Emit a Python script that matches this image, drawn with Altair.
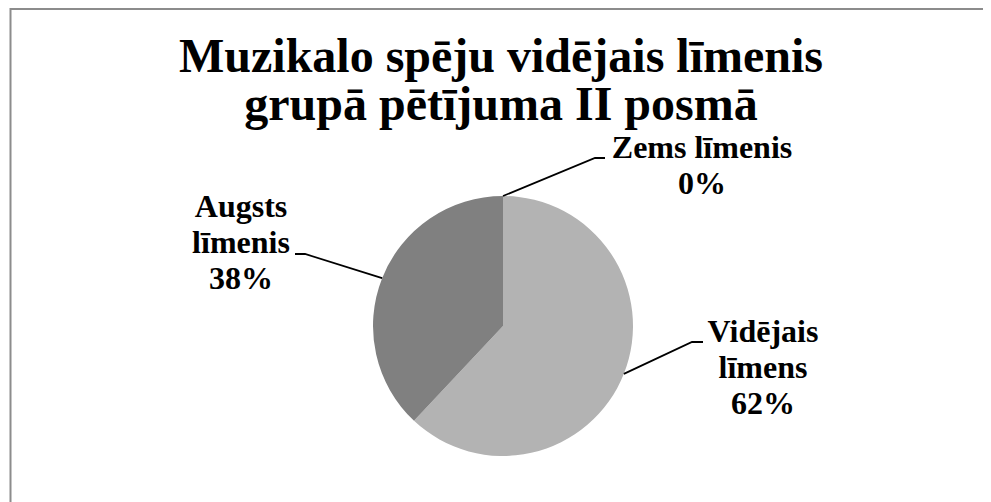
import altair as alt
import pandas as pd
import numpy as np

# ---- data ----
categories = ["Vidējais līmens", "Augsts līmenis", "Zems līmenis"]
values = [62, 38, 0]
labels = ["Vidējais\nlīmens\n62%", "Augsts\nlīmenis\n38%", "Zems līmenis\n0%"]
colors = ["#b3b3b3", "#808080", "#4d4d4d"]
title_lines = ["Muzikalo spēju vidējais līmenis", "grupā pētījuma II posmā"]

# ---- layout (chart pixel coords) ----
W, H = 975, 494
CX, CY, R = 495, 318, 130
# per category: elbow, end of leader, label center x, first baseline y
layout = {
    "Vidējais līmens": dict(ex=684, ey=334, tx=695, ty=334, lx=755, ly=334),
    "Augsts līmenis": dict(ex=297, ey=246, tx=287, ty=246, lx=233, ly=209),
    "Zems līmenis": dict(ex=587, ey=150, tx=597, ty=150, lx=694, ly=150),
}

df = pd.DataFrame({"cat": categories, "value": values, "idx": range(len(categories)), "label": labels})
total = df["value"].sum()
end = df["value"].cumsum() / total
start = end - df["value"] / total
mid = (start + end) / 2 * 2 * np.pi
df["edge_x"] = CX + R * np.sin(mid)
df["edge_y"] = CY - R * np.cos(mid)

rows = []
lab_rows = []
for _, r in df.iterrows():
    L = layout[r["cat"]]
    rows.append({"cat": r["cat"], "step": 0, "x": r["edge_x"], "y": r["edge_y"]})
    rows.append({"cat": r["cat"], "step": 1, "x": L["ex"], "y": L["ey"]})
    rows.append({"cat": r["cat"], "step": 2, "x": L["tx"], "y": L["ty"]})
    lab_rows.append({"cat": r["cat"], "label": r["label"], "x": L["lx"], "y": L["ly"]})
lines_df = pd.DataFrame(rows)
lab_df = pd.DataFrame(lab_rows)

FONT = "Liberation Serif"

pie = alt.Chart(df).mark_arc(radius=R).encode(
    theta=alt.Theta("value:Q", stack=True),
    color=alt.Color("cat:N", scale=alt.Scale(domain=categories, range=colors), legend=None),
    order=alt.Order("idx:Q"),
    x=alt.value(CX),
    y=alt.value(CY),
)

leaders = alt.Chart(lines_df).mark_line(color="black", strokeWidth=1.8).encode(
    x=alt.X("x:Q", scale=None, axis=None),
    y=alt.Y("y:Q", scale=None, axis=None),
    detail="cat:N",
    order="step:Q",
)

texts = alt.Chart(lab_df).mark_text(
    font=FONT, fontSize=32, fontWeight="bold", align="center", baseline="alphabetic",
    lineBreak="\n", lineHeight=36, color="black",
).encode(
    x=alt.X("x:Q", scale=None, axis=None),
    y=alt.Y("y:Q", scale=None, axis=None),
    text="label:N",
)

title = alt.Chart(pd.DataFrame({"t": ["\n".join(title_lines)]})).mark_text(
    font=FONT, fontSize=48, fontWeight="bold", align="center", baseline="alphabetic",
    lineBreak="\n", lineHeight=48, color="black",
).encode(x=alt.value(493), y=alt.value(64), text="t:N")

frame_top = alt.Chart(pd.DataFrame({"a": [0]})).mark_rule(color="#8c8c8c", strokeWidth=2).encode(
    x=alt.value(2), x2=alt.value(W), y=alt.value(1)
)
frame_left = alt.Chart(pd.DataFrame({"a": [0]})).mark_rule(color="#8c8c8c", strokeWidth=2).encode(
    x=alt.value(2.5), y=alt.value(0), y2=alt.value(H)
)

chart = alt.layer(frame_top, frame_left, pie, leaders, texts, title).properties(
    width=W, height=H, autosize=alt.AutoSizeParams(type="none"), padding=0, background="white"
).configure_view(stroke=None)

chart.save("out.html", embed_options={"renderer": "svg", "actions": False})
